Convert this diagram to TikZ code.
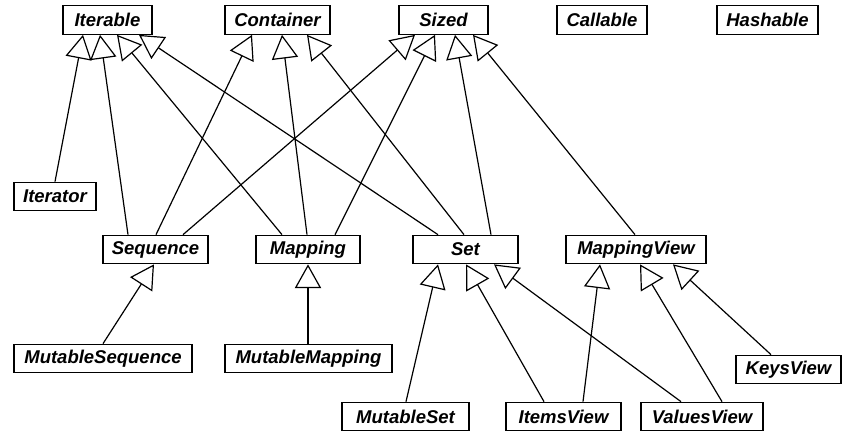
\documentclass[tikz,border=0pt]{standalone}
\usepackage{fontspec}
\setmainfont{Liberation Sans}
\usetikzlibrary{arrows.meta}
\begin{document}
\begin{tikzpicture}[x=1pt,y=-1pt,
  cls/.style={draw,line width=1.2pt,rectangle,inner sep=0pt,minimum height=28.5pt,
    font=\fontsize{18.5}{20}\selectfont\bfseries\itshape},
  inh/.style={line width=1.2pt,-{Triangle[open,length=19pt,width=21pt,fill=white,scale=1.25]}}]
\useasboundingbox (0,0) rectangle (854,439);
% top row
\node[cls,minimum width=89pt] (Iterable) at (107.5,20) {Iterable};
\node[cls,minimum width=105pt] (Container) at (277.5,20) {Container};
\node[cls,minimum width=89pt] (Sized) at (443.5,20) {Sized};
\node[cls,minimum width=90pt] (Callable) at (602,20) {Callable};
\node[cls,minimum width=101pt] (Hashable) at (767.5,20) {Hashable};
% middle
\node[cls,minimum width=82pt] (Iterator) at (55,196.5) {Iterator};
\node[cls,minimum width=105pt] (Sequence) at (155.5,249.5) {Sequence};
\node[cls,minimum width=104pt] (Mapping) at (308,249.5) {Mapping};
\node[cls,minimum width=105pt] (Set) at (465.5,249.5) {Set};
\node[cls,minimum width=140pt] (MappingView) at (636,249.5) {MappingView};
% bottom
\node[cls,minimum width=178pt] (MutableSequence) at (103,358.5) {MutableSequence};
\node[cls,minimum width=167pt] (MutableMapping) at (308.5,358.5) {MutableMapping};
\node[cls,minimum width=127pt] (MutableSet) at (405.5,416.5) {MutableSet};
\node[cls,minimum width=115pt] (ItemsView) at (563.5,416.5) {ItemsView};
\node[cls,minimum width=122pt] (ValuesView) at (702,416.5) {ValuesView};
\node[cls,minimum width=105pt] (KeysView) at (788.5,369.5) {KeysView};
% to Iterable
\draw[inh] (Iterator.north) -- ([xshift=-24.5pt]Iterable.south);
\draw[inh] ([xshift=-27.5pt]Sequence.north) -- ([xshift=-7.5pt]Iterable.south);
\draw[inh] ([xshift=-26pt]Mapping.north) -- ([xshift=9.5pt]Iterable.south);
\draw[inh] ([xshift=-27.5pt]Set.north) -- ([xshift=31.5pt]Iterable.south);
% to Container
\draw[inh] ([xshift=0.5pt]Sequence.north) -- ([xshift=-25.5pt]Container.south);
\draw[inh] ([xshift=-1pt]Mapping.north) -- ([xshift=4.5pt]Container.south);
\draw[inh] ([xshift=-1.5pt]Set.north) -- ([xshift=29.5pt]Container.south);
% to Sized
\draw[inh] ([xshift=27.5pt]Sequence.north) -- ([xshift=-28.5pt]Sized.south);
\draw[inh] ([xshift=27pt]Mapping.north) -- ([xshift=-8.5pt]Sized.south);
\draw[inh] ([xshift=25.5pt]Set.north) -- ([xshift=11.5pt]Sized.south);
\draw[inh] ([xshift=-1pt]MappingView.north) -- ([xshift=29.5pt]Sized.south);
% lower level
\draw[inh] (MutableSequence.north) -- ([xshift=-1.5pt]Sequence.south);
\draw[inh] (MutableMapping.north -| Mapping.south) -- (Mapping.south);
\draw[inh] ([xshift=0.5pt]MutableSet.north) -- ([xshift=-27.5pt]Set.south);
\draw[inh] ([xshift=-19.5pt]ItemsView.north) -- ([xshift=0.5pt]Set.south);
\draw[inh] ([xshift=-21pt]ValuesView.north) -- ([xshift=28.5pt]Set.south);
\draw[inh] ([xshift=19.5pt]ItemsView.north) -- ([xshift=-36pt]MappingView.south);
\draw[inh] ([xshift=20pt]ValuesView.north) -- ([xshift=4pt]MappingView.south);
\draw[inh] ([xshift=-17.5pt]KeysView.north) -- ([xshift=37pt]MappingView.south);
\end{tikzpicture}
\end{document}
